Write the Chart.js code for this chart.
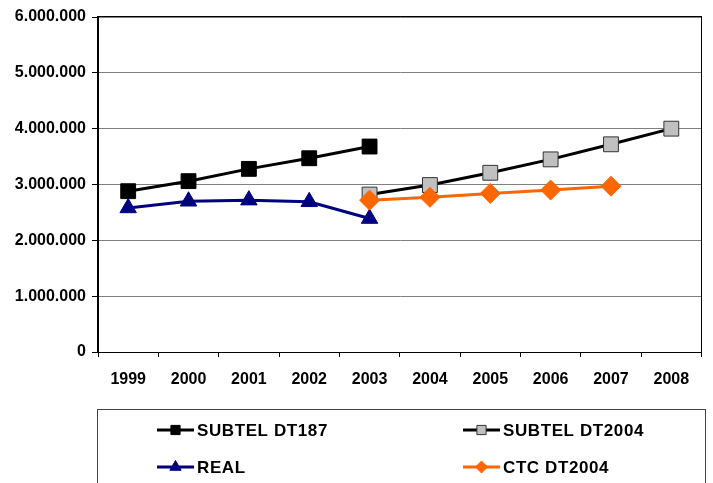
<!DOCTYPE html>
<html>
<head>
<meta charset="utf-8">
<script src="https://cdn.jsdelivr.net/npm/chart.js"></script>
<style>
  html, body { margin: 0; padding: 0; background: #fff; }
  #wrap { width: 713px; height: 483px; }
</style>
</head>
<body>
<div id="wrap"><canvas id="lineChart" width="713" height="483"></canvas></div>
<script>
const years = ['1999', '2000', '2001', '2002', '2003', '2004', '2005', '2006', '2007', '2008'];
const subtelDT187 = [2880000, 3060000, 3280000, 3470000, 3680000, null, null, null, null, null];
const subtelDT2004 = [null, null, null, null, 2820000, 2990000, 3210000, 3450000, 3720000, 4000000];
const real = [2580000, 2700000, 2720000, 2690000, 2390000, null, null, null, null, null];
const ctcDT2004 = [null, null, null, null, 2720000, 2770000, 2840000, 2900000, 2970000, null];
const yTicks = [0, 1000000, 2000000, 3000000, 4000000, 5000000, 6000000];

const FONT = '"Liberation Sans", Arial, sans-serif';

function fmt(v) {
    return String(v).replace(/\B(?=(\d{3})+(?!\d))/g, '.');
}

// plot frame drawn round the chart area
const framePlugin = {
    id: 'frame',
    beforeDatasetsDraw(chart) {
        const a = chart.chartArea;
        const ctx = chart.ctx;
        ctx.save();
        ctx.strokeStyle = '#000';
        ctx.lineWidth = 1;
        ctx.strokeRect(Math.round(a.left) - 0.5, Math.round(a.top) - 0.5, Math.round(a.right - a.left), Math.round(a.bottom - a.top) + 1);
        ctx.restore();
    }
};

// boxed legend, two columns
const legendPlugin = {
    id: 'boxLegend',
    afterDraw(chart) {
        const ctx = chart.ctx;
        ctx.save();
        ctx.strokeStyle = '#444';
        ctx.lineWidth = 1;
        ctx.strokeRect(97.5, 409.5, 608, 100);

        const slots = [
            { i: 0, x: 157, y: 430 },
            { i: 1, x: 463, y: 430 },
            { i: 2, x: 157, y: 467 },
            { i: 3, x: 463, y: 467 }
        ];
        slots.forEach(s => {
            const ds = chart.data.datasets[s.i];
            ctx.strokeStyle = ds.borderColor;
            ctx.lineWidth = 3;
            ctx.beginPath();
            ctx.moveTo(s.x, s.y);
            ctx.lineTo(s.x + 37, s.y);
            ctx.stroke();
            ctx.fillStyle = ds.pointBackgroundColor;
            ctx.strokeStyle = ds.pointBorderColor;
            ctx.lineWidth = ds.pointBorderWidth;
            Chart.helpers.drawPoint(ctx, {
                pointStyle: ds.pointStyle,
                radius: ds.legendRadius,
                rotation: 0,
                borderWidth: ds.pointBorderWidth
            }, s.x + 18.5, s.y);
            ctx.fillStyle = '#000';
            ctx.font = 'bold 17px ' + FONT;
            ctx.letterSpacing = '0.6px';
            ctx.textBaseline = 'middle';
            ctx.textAlign = 'left';
            ctx.fillText(ds.label, s.x + 40, s.y + 1);
        });
        ctx.restore();
    }
};

const ctx = document.getElementById('lineChart').getContext('2d');
const chart = new Chart(ctx, {
    type: 'line',
    data: {
        labels: years,
        datasets: [
            {
                label: 'SUBTEL DT187',
                data: subtelDT187,
                borderColor: '#000000',
                borderWidth: 3,
                pointStyle: 'rect',
                pointRadius: 10.5,
                legendRadius: 6.5,
                pointBackgroundColor: '#000000',
                pointBorderColor: '#000000',
                pointBorderWidth: 1,
                order: 2
            },
            {
                label: 'SUBTEL DT2004',
                data: subtelDT2004,
                borderColor: '#000000',
                borderWidth: 3,
                pointStyle: 'rect',
                pointRadius: 10.5,
                legendRadius: 6.5,
                pointBackgroundColor: '#C0C0C0',
                pointBorderColor: '#333333',
                pointBorderWidth: 1,
                order: 3
            },
            {
                label: 'REAL',
                data: real,
                borderColor: '#000080',
                borderWidth: 3,
                pointStyle: 'triangle',
                pointRadius: 9.5,
                legendRadius: 6.5,
                pointBackgroundColor: '#000080',
                pointBorderColor: '#000080',
                pointBorderWidth: 1,
                order: 1
            },
            {
                label: 'CTC DT2004',
                data: ctcDT2004,
                borderColor: '#FF6600',
                borderWidth: 3,
                pointStyle: 'rectRot',
                pointRadius: 10,
                legendRadius: 6,
                pointBackgroundColor: '#FF6600',
                pointBorderColor: '#FF6600',
                pointBorderWidth: 1,
                order: 0
            }
        ]
    },
    options: {
        responsive: false,
        animation: false,
        events: [],
        layout: {
            padding: { top: 17, right: 10, bottom: 91, left: 0 }
        },
        plugins: {
            legend: { display: false },
            tooltip: { enabled: false }
        },
        elements: {
            line: { tension: 0 }
        },
        scales: {
            x: {
                offset: true,
                grid: {
                    offset: true,
                    drawOnChartArea: false,
                    drawTicks: true,
                    tickLength: 5,
                    color: '#000',
                    tickColor: '#000'
                },
                border: { display: true, color: '#000', width: 1 },
                ticks: {
                    color: '#000',
                    font: { family: FONT, size: 16, weight: 'bold' },
                    padding: 13,
                    maxRotation: 0,
                    autoSkip: false
                },
                afterFit(scale) { scale.height = 40; }
            },
            y: {
                min: 0,
                max: 6000000,
                afterBuildTicks(scale) {
                    scale.ticks = yTicks.map(v => ({ value: v }));
                },
                grid: {
                    color: '#808080',
                    tickColor: '#000',
                    tickLength: 6,
                    lineWidth: 1
                },
                border: { display: true, color: '#000', width: 1 },
                ticks: {
                    color: '#000',
                    font: { family: FONT, size: 16, weight: 'bold' },
                    padding: 6,
                    callback: v => fmt(v)
                },
                afterFit(scale) { scale.width = 98; }
            }
        }
    },
    plugins: [framePlugin, legendPlugin]
});
</script>
</body>
</html>
